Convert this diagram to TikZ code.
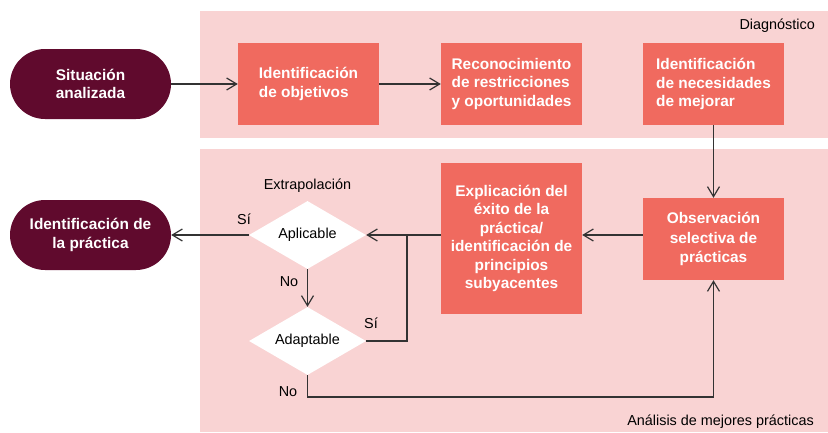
\documentclass[tikz,border=0pt]{standalone}
\usepackage{fontspec}
\setmainfont{Liberation Sans}
\usetikzlibrary{arrows.meta,shapes.geometric,calc}
\definecolor{panelpink}{HTML}{F9D3D3}
\definecolor{salmon}{HTML}{F06A5F}
\definecolor{maroon}{HTML}{600A2D}
\definecolor{linegray}{HTML}{333333}
\newcommand{\boxfont}{\fontsize{15.4}{18.5}\selectfont\bfseries}
\newcommand{\labelfont}{\fontsize{14.4}{17}\selectfont}
\tikzstyle{stepbox}=[rectangle,fill=salmon,text=white,font=\boxfont,minimum width=141pt,minimum height=82pt,inner sep=0pt]
\tikzstyle{terminal}=[rectangle,rounded corners=35pt,fill=maroon,text=white,font=\boxfont,align=center,minimum width=161pt,minimum height=70pt,inner sep=0pt]
\tikzstyle{decision}=[diamond,fill=white,aspect=1.7,minimum width=117pt,minimum height=68pt,inner sep=0pt,font=\labelfont]
\tikzstyle{edge} = [draw=linegray,line width=1.2pt,-{Straight Barb[length=10pt,width=12pt]}]
\tikzstyle{plainline} = [draw=linegray,line width=1.2pt]
\tikzstyle{weight} = [font=\labelfont,inner sep=0pt]

\begin{document}
\begin{tikzpicture}[x=1pt,y=-1pt]
    \useasboundingbox (0,0) rectangle (828,432);

    % the two stages
    \fill[panelpink] (200,11) rectangle (828,138);
    \fill[panelpink] (200,149) rectangle (828,432);
    \node[weight,anchor=east] (diag) at (815,26) {Diagnóstico};
    \node[weight,anchor=east] (anal) at (814,422) {Análisis de mejores prácticas};

    \node[terminal] (sit) at (90.5,84) {Situación\\analizada};
    \node[terminal] (prac) at (90.5,235) {Identificación de\\la práctica};

    \foreach \pos/ \name / \txt in {{(308.5,84)/obj/Identificación\\de objetivos},{(511.5,84)/rec/Reconocimiento\\de restricciones\\y oportunidades},{(713.5,84)/nec/Identificación\\de necesidades\\de mejorar}}
        \node[stepbox,align=left] (\name) at \pos {\txt};

    \node[stepbox,align=center,font=\fontsize{15.4}{19.5}\selectfont\bfseries] (obs) at (713.5,239) {Observación\\selectiva de\\prácticas};
    \node[stepbox,align=center,minimum height=151pt] (exp) at (511.5,238.5) {Explicación del\\éxito de la\\práctica/\\identificación de\\principios\\subyacentes};

    \node[weight] (extra) at (307.5,186) {Extrapolación};
    \node[decision] (apl) at (307.5,235) {Aplicable};
    \node[decision] (ada) at (307.5,341) {Adaptable};

    % Connect steps with edges
    \foreach \source/ \dest in {sit/obj,obj/rec,nec/obs,apl/prac,apl/ada}
        \draw[edge] (\source) -- (\dest);
    \draw[edge] (obs.west |- apl) -- (exp.east |- apl);
    \draw[edge] (exp.west |- apl) -- (apl.east);

    \coordinate (join) at (407,235);
    \coordinate (back) at (713.5,397);
    \draw[plainline] (ada.east) -| (join);
    \draw[edge] (ada.south) |- (back) -- (obs.south);

    \node[weight] (si1) at (244,219) {Sí};
    \node[weight] (no1) at (289,282) {No};
    \node[weight] (si2) at (371,323) {Sí};
    \node[weight] (no2) at (288,392) {No};
\end{tikzpicture}
\end{document}
